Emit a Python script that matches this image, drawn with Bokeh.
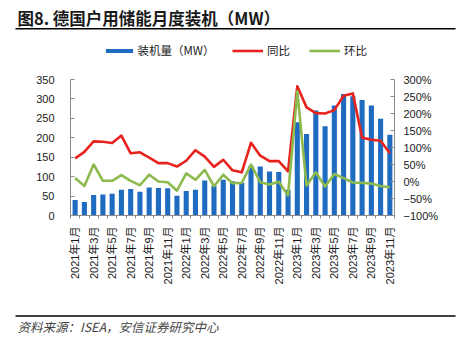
from math import pi
from bokeh.plotting import figure
from bokeh.models import (Range1d, LinearAxis, FixedTicker, Legend, LegendItem, ColumnDataSource)
from bokeh.core.properties import value
from bokeh.embed import file_html
from bokeh.resources import INLINE

months = ["2021年1月", "2021年2月", "2021年3月", "2021年4月", "2021年5月", "2021年6月",
          "2021年7月", "2021年8月", "2021年9月", "2021年10月", "2021年11月", "2021年12月",
          "2022年1月", "2022年2月", "2022年3月", "2022年4月", "2022年5月", "2022年6月",
          "2022年7月", "2022年8月", "2022年9月", "2022年10月", "2022年11月", "2022年12月",
          "2023年1月", "2023年2月", "2023年3月", "2023年4月", "2023年5月", "2023年6月",
          "2023年7月", "2023年8月", "2023年9月", "2023年10月", "2023年11月"]
install_mw = [40, 35, 53, 54, 56, 66, 68, 61, 72, 71, 70, 51,
              63, 66, 90, 76, 92, 88, 84, 128, 126, 113, 112, 66,
              240, 210, 270, 230, 283, 313, 307, 297, 283, 249, 208]
yoy_pct = [68, 87, 118, 117, 113, 135, 83, 86, 70, 54, 54, 44,
           61, 92, 73, 43, 64, 33, 27, 114, 76, 60, 60, 30,
           280, 218, 201, 200, 210, 252, 259, 129, 123, 120, 83]
mom_pct = [10, -13, 50, 2, 2, 19, 2, -11, 20, 0, -2, -27,
           24, 5, 34, -14, 20, -5, -4, 50, -2, -9, -1, -41,
           265, -12, 27, -15, 22, 10, -3, -4, -6, -13, -17]
left_ticks = [0, 50, 100, 150, 200, 250, 300, 350]
right_ticks = [-100, -50, 0, 50, 100, 150, 200, 250, 300]
right_tick_labels = ["−100%", "−50%", "0%", "50%", "100%", "150%", "200%", "250%", "300%"]
series_names = ["装机量（MW）", "同比", "环比"]

title_text = "图8. 德国户用储能月度装机（MW）"
source_text = "资料来源：ISEA，安信证券研究中心"

n = len(months)
idx = list(range(n))
src = ColumnDataSource(data=dict(x=idx, mw=install_mw, yoy=yoy_pct, mom=mom_pct))

BLUE = "#1E6BC0"
RED = "#E8231E"
GREEN = "#8DBA4E"
AXIS = "#8c8c8c"
LBL = "#1a1a1a"
NUMFONT = "Liberation Sans"
CJK = "Noto Sans CJK SC"
W = 460


def deco_figure(h):
    f = figure(width=W, height=h, output_backend="svg", toolbar_location=None,
               x_range=Range1d(0, W), y_range=Range1d(h, 0),
               min_border=0, min_border_left=0, min_border_right=0,
               min_border_top=0, min_border_bottom=0)
    f.axis.visible = False
    f.grid.visible = False
    f.outline_line_color = None
    f.border_fill_color = "white"
    f.background_fill_color = "white"
    return f


# ---------- top: title, rule, legend ----------
T = deco_figure(60)
T.text(x=[17], y=[17], text=[title_text], text_font=value(CJK), text_font_style="bold",
       text_font_size="16.5px", text_baseline="middle", text_color=LBL)
T.segment(x0=[15], y0=[28.3], x1=[455], y1=[28.3], line_color="black", line_width=1.6)
# legend proxies (kept outside the visible range)
pb = T.vbar(x=[-100], top=[-100], bottom=[-110], width=1, fill_color=BLUE, line_color=None)
pr = T.line(x=[-100, -90], y=[-100, -100], line_color=RED, line_width=2.6)
pg = T.line(x=[-100, -90], y=[-100, -100], line_color=GREEN, line_width=2.6)
leg1 = Legend(items=[LegendItem(label=series_names[0], renderers=[pb])],
              location=(101.5, 2), orientation="horizontal", glyph_width=34, glyph_height=5,
              label_standoff=2, padding=0, margin=0, border_line_color=None,
              background_fill_alpha=0, label_text_font=CJK, label_text_font_size="11.5px",
              label_text_color=LBL, label_height=12)
leg2 = Legend(items=[LegendItem(label=series_names[1], renderers=[pr]),
                     LegendItem(label=series_names[2], renderers=[pg])],
              location=(232, 2), orientation="horizontal", glyph_width=31, glyph_height=5,
              label_standoff=4, spacing=19, padding=0, margin=0, border_line_color=None,
              background_fill_alpha=0, label_text_font=CJK, label_text_font_size="11.5px",
              label_text_color=LBL, label_height=12)
T.add_layout(leg1, "center")
T.add_layout(leg2, "center")

# ---------- main chart ----------
p = figure(width=W, height=250, output_backend="svg", toolbar_location=None,
           x_range=Range1d(-0.5, n - 0.5), y_range=Range1d(0, 350),
           min_border_left=70, min_border_right=66, min_border_top=19, min_border_bottom=95)
p.extra_y_ranges = {"pct": Range1d(-100, 300)}
p.xgrid.visible = False
p.ygrid.visible = False
p.outline_line_color = None
p.background_fill_color = "white"
p.border_fill_color = "white"

p.vbar(x="x", top="mw", width=0.55, source=src, fill_color=BLUE, line_color=None)
p.line(x="x", y="yoy", source=src, y_range_name="pct", line_color=RED,
       line_width=2.6, line_join="round")
p.line(x="x", y="mom", source=src, y_range_name="pct", line_color=GREEN,
       line_width=2.6, line_join="round")

ya = p.yaxis[0]
ya.ticker = FixedTicker(ticks=left_ticks)
ya.axis_line_color = AXIS
ya.major_tick_line_color = AXIS
ya.major_tick_in = 4
ya.major_tick_out = 0
ya.minor_tick_line_color = None
ya.major_label_standoff = 16
ya.major_label_text_font = NUMFONT
ya.major_label_text_font_size = "11px"
ya.major_label_text_color = LBL

ra = LinearAxis(y_range_name="pct")
ra.ticker = FixedTicker(ticks=right_ticks)
ra.major_label_overrides = {t: l for t, l in zip(right_ticks, right_tick_labels)}
ra.axis_line_color = AXIS
ra.major_tick_line_color = AXIS
ra.major_tick_in = 4
ra.major_tick_out = 0
ra.minor_tick_line_color = None
ra.major_label_standoff = 9
ra.major_label_text_font = NUMFONT
ra.major_label_text_font_size = "11px"
ra.major_label_text_color = LBL
p.add_layout(ra, "right")

xa = p.xaxis[0]
label_idx = idx[::2]
xa.ticker = FixedTicker(ticks=label_idx, minor_ticks=[i - 0.5 for i in range(n + 1)])
xa.major_label_overrides = {i: months[i] for i in label_idx}
xa.major_label_orientation = pi / 2
xa.axis_line_color = AXIS
xa.major_tick_line_color = None
xa.major_tick_in = 0
xa.major_tick_out = 0
xa.minor_tick_line_color = AXIS
xa.minor_tick_in = 0
xa.minor_tick_out = 3
xa.major_label_standoff = 8
xa.major_label_text_font = "Liberation Sans, Noto Sans CJK SC"
xa.major_label_text_font_size = "11px"
xa.major_label_text_color = LBL

# ---------- bottom: rule and source ----------
B = deco_figure(28)
B.segment(x0=[15], y0=[5.5], x1=[455], y1=[5.5], line_color="black", line_width=1.6)
B.text(x=[17], y=[15.5], text=[source_text], text_font=value(CJK), text_font_style="italic",
       text_font_size="12.5px", text_baseline="middle", text_color="#444444")

open("out.html", "w").write(file_html([T, p, B], INLINE))
